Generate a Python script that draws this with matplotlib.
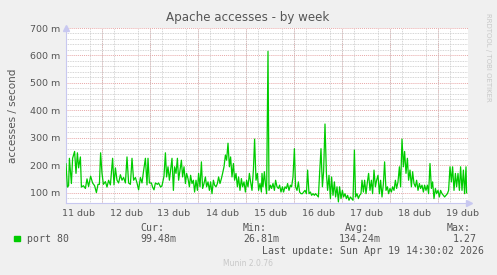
import matplotlib
matplotlib.use("Agg")
import matplotlib.pyplot as plt
from matplotlib.ticker import MultipleLocator, FixedLocator, FuncFormatter

# Hours counted from 11 dub 00:00, values in milli accesses / second
hours_1 = [6.0, 6.7, 7.3, 7.7, 8.7, 9.3, 10.3, 11.0, 11.7, 12.3, 13.2, 13.7, 14.7, 15.7, 16.5, 17.3,
           18.3, 19.3, 20.3, 21.2, 22.0, 22.7, 23.3, 24.0, 24.7, 25.7, 26.5, 27.3, 28.2, 29.3, 30.0,
           30.7, 31.5, 32.3, 33.2, 34.0, 34.8, 35.7, 36.5, 37.3, 38.2, 39.0, 39.8, 40.7, 41.5, 42.3,
           43.2, 44.0, 44.8, 45.7, 46.5, 47.0, 47.7, 48.7, 49.3, 50.0, 50.7, 51.7, 52.3, 53.3, 54.0,
           55.0, 55.7]
values_1 = [205, 120, 125, 225, 133, 225, 250, 170, 245, 190, 230, 120, 125, 115, 150, 122,
            160, 135, 125, 100, 130, 130, 245, 170, 130, 140, 120, 145, 128, 225, 128,
            190, 145, 135, 165, 145, 155, 135, 230, 135, 130, 225, 145, 155, 135, 110,
            155, 135, 180, 225, 128, 225, 135, 135, 120, 110, 135, 130, 135, 120, 125,
            160, 245]

hours_2 = [56.3, 57.0, 57.7, 58.3, 59.0, 59.7, 60.3, 61.0, 61.7, 62.3, 63.0, 63.7, 64.3, 65.0, 65.7,
           66.3, 67.0, 67.7, 68.3, 69.0, 69.7, 70.3, 71.0, 71.7, 72.3, 73.0, 73.7, 74.3, 75.0, 75.7,
           76.3, 77.0, 77.7, 78.3, 79.0, 79.7, 80.3, 81.0, 81.7, 82.3, 83.0, 83.7, 84.3, 85.0, 85.7,
           86.3, 87.0, 87.7, 88.3, 89.0, 89.7, 90.3, 91.0, 91.7, 92.3, 93.0, 93.7, 94.3, 95.0, 95.7,
           96.3, 97.0, 97.7, 98.3, 99.0, 99.7, 100.3, 101.0, 101.7, 102.3, 103.0, 103.7]
values_2 = [157, 194, 145, 182, 225, 108, 194, 170, 225, 145, 182, 218, 157, 194, 133,
            170, 151, 121, 163, 133, 145, 102, 145, 108, 170, 121, 212, 115, 133, 157,
            121, 139, 108, 139, 96, 145, 127, 121, 133, 157, 133, 151, 170, 194, 237,
            218, 280, 194, 230, 157, 206, 145, 170, 121, 157, 108, 151, 121, 139, 102,
            145, 121, 170, 139, 108, 182, 295, 145, 170, 108, 133, 102]

hours_3 = [104.0, 104.5, 105.2, 105.7, 106.3, 107.0, 107.5, 108.2, 108.8, 109.5, 110.2, 110.8,
           111.5, 112.2, 112.8, 113.5, 114.2, 114.8, 115.5, 116.2, 116.8, 117.5, 118.2, 118.8,
           119.5, 120.2, 120.8, 121.5, 122.2, 122.8, 123.5, 124.2, 124.8, 125.5, 126.2, 126.8,
           127.5, 128.2, 128.8, 129.5, 130.2, 130.8, 131.5, 132.2, 132.8, 133.5, 134.2, 134.8,
           135.5, 136.2, 136.8, 137.5, 138.2, 138.8, 139.5, 140.2, 140.8, 141.5, 142.2, 142.8,
           143.5, 144.2, 144.8, 145.5, 146.2, 146.8, 147.5, 148.2, 148.8, 149.5, 150.2, 150.8,
           151.5, 152.2, 152.8, 153.5]
values_3 = [170, 121, 176, 133, 96, 615, 108, 127, 115, 133, 108, 145,
            121, 115, 127, 102, 121, 102, 121, 115, 133, 108, 127, 121,
            157, 260, 121, 108, 139, 102, 96, 96, 102, 108, 96, 182,
            96, 102, 90, 96, 90, 96, 90, 84, 170, 260, 121, 176,
            350, 170, 108, 163, 78, 157, 90, 139, 84, 121, 66, 121,
            78, 108, 84, 96, 78, 90, 72, 84, 78, 72, 255, 84,
            96, 78, 90, 96]

hours_4 = [154.0, 154.7, 155.3, 156.0, 156.7, 157.3, 158.0, 158.7, 159.3, 160.0, 160.7, 161.3,
           162.0, 162.7, 163.3, 164.0, 164.7, 165.3, 166.0, 166.7, 167.3, 168.0, 168.7, 169.3,
           170.0, 170.7, 171.3, 172.0, 172.7, 173.3, 174.0, 174.7, 175.3, 176.0, 176.7, 177.3,
           178.0, 178.7, 179.3, 180.0, 180.7, 181.3, 182.0, 182.7, 183.3, 184.0, 184.7, 185.3,
           186.0, 186.7, 187.3, 188.0, 188.7, 189.3, 190.0, 190.7, 191.3, 192.0, 192.7, 193.3,
           194.0, 194.7, 195.3, 196.0, 196.7, 197.3, 198.0, 198.7, 199.3, 200.0, 200.7, 201.3,
           202.0, 202.7, 203.3, 204.0, 204.7, 205.3, 206.0, 206.3]
values_4 = [145, 102, 145, 96, 139, 170, 108, 145, 96, 182, 121, 145,
            163, 96, 145, 84, 133, 212, 108, 121, 96, 115, 102, 121,
            108, 145, 115, 139, 194, 121, 295, 194, 250, 170, 225, 145,
            182, 121, 176, 133, 121, 145, 108, 133, 115, 127, 102, 127,
            108, 127, 96, 206, 115, 139, 78, 115, 96, 108, 84, 108,
            96, 90, 84, 90, 96, 108, 194, 139, 194, 108, 170, 121,
            170, 108, 194, 108, 182, 96, 194, 99]

day_ticks = [12, 36, 60, 84, 108, 132, 156, 180, 204]
day_labels = ["11 dub", "12 dub", "13 dub", "14 dub", "15 dub", "16 dub", "17 dub", "18 dub", "19 dub"]

legend_name = "port 80"
stat_cur = "99.48m"
stat_min = "26.81m"
stat_avg = "134.24m"
stat_max = "1.27"
last_update = "Last update: Sun Apr 19 14:30:02 2026"

W, H = 497, 275
BG = "#F0F0F0"
TEXT = "#555555"
GREEN = "#00CC00"


# place text with pixel coordinates measured from the top-left corner
def put(fig, x, y, s, **kw):
    fig.text(x / W, 1 - y / H, s, **kw)


def main():
    fig = plt.figure(figsize=(W / 100, H / 100), dpi=100, facecolor=BG)
    # plot area: x 66..468, y 28..203 pixels
    ax = fig.add_axes([66 / W, 1 - 203 / H, (468 - 66) / W, (203 - 28) / H])
    ax.set_facecolor("white")

    hours = hours_1 + hours_2 + hours_3 + hours_4
    values = values_1 + values_2 + values_3 + values_4
    ax.plot(hours, values, color=GREEN, linewidth=0.9, zorder=3)

    ax.set_xlim(6, 207)
    ax.set_ylim(62, 700)

    # minor grid: grey dotted, major grid: red dotted
    ax.xaxis.set_minor_locator(MultipleLocator(6))
    ax.yaxis.set_minor_locator(MultipleLocator(20))
    ax.grid(True, which="minor", color="#C8C8C8", linestyle=(0, (1, 1)), linewidth=0.6)
    for h in range(24, 207, 24):
        ax.axvline(h, color="#E8A8A8", linestyle=(0, (1, 1)), linewidth=0.7, zorder=1)
    for v in range(100, 701, 100):
        ax.axhline(v, color="#E8A8A8", linestyle=(0, (1, 1)), linewidth=0.7, zorder=1)

    ax.xaxis.set_major_locator(FixedLocator(day_ticks))
    ax.set_xticklabels(day_labels)
    ax.yaxis.set_major_locator(MultipleLocator(100))
    ax.yaxis.set_major_formatter(FuncFormatter(lambda v, p: "%d m" % v))
    ax.tick_params(which="both", length=0, colors=TEXT, labelsize=6.8, pad=4)

    for side in ["top", "right"]:
        ax.spines[side].set_visible(False)
    for side in ["left", "bottom"]:
        ax.spines[side].set_color("#C8C8F0")
        ax.spines[side].set_linewidth(0.8)
    # small axis arrows like rrdtool
    ax.plot([6], [700], marker="^", color="#C8C8F0", markersize=4, clip_on=False)
    ax.plot([207.5], [62], marker=">", color="#C8C8F0", markersize=4, clip_on=False)

    ax.set_ylabel("accesses / second", color=TEXT, fontsize=7.5, labelpad=9)
    put(fig, 248, 18, "Apache accesses - by week", ha="center", va="center", color=TEXT, fontsize=8.6)
    put(fig, 488, 57, "RRDTOOL / TOBI OETIKER", ha="center", va="center", rotation=270,
        color="#C8C8C8", fontsize=5)

    # legend block in monospace
    mono = dict(family="DejaVu Sans Mono", fontsize=7.1, color=TEXT, va="center")
    fig.patches.append(plt.Rectangle((14 / W, 1 - 241 / H), 5.5 / W, 5.5 / H, color=GREEN,
                                     transform=fig.transFigure, figure=fig))
    put(fig, 27, 239, legend_name, **mono)
    put(fig, 140, 228, "Cur:", **mono)
    put(fig, 140, 239, stat_cur, **mono)
    put(fig, 243, 228, "Min:", **mono)
    put(fig, 243, 239, stat_min, **mono)
    put(fig, 345, 228, "Avg:", **mono)
    put(fig, 339, 239, stat_avg, **mono)
    put(fig, 447, 228, "Max:", **mono)
    put(fig, 453, 239, stat_max, **mono)
    put(fig, 262, 251, last_update, **mono)
    put(fig, 248, 264, "Munin 2.0.76", ha="center", va="center", color="#C8C8C8", fontsize=5.5)

    fig.savefig("out.png", dpi=100, facecolor=BG)
    plt.close(fig)


main()
